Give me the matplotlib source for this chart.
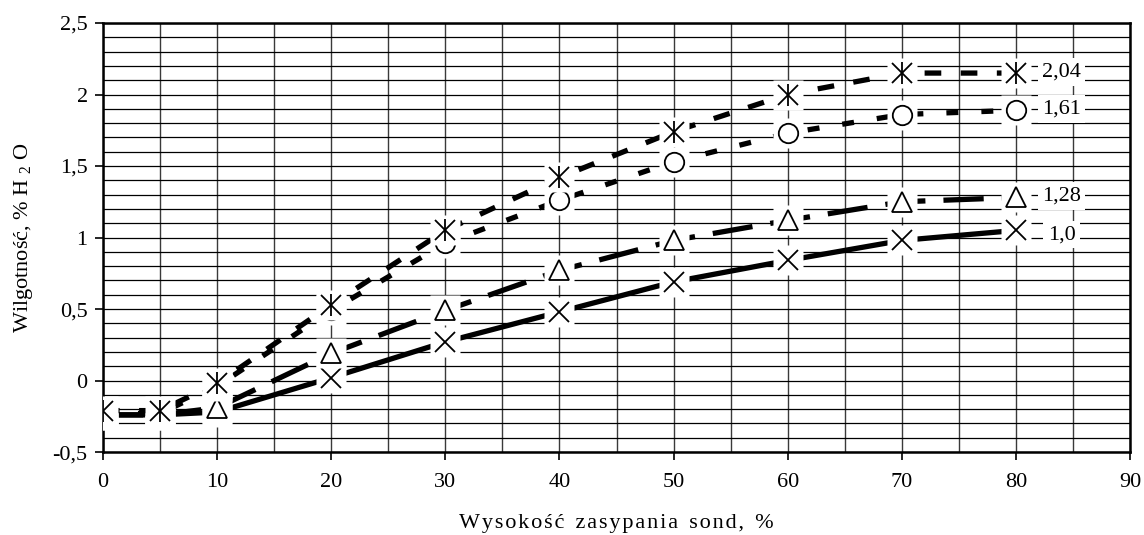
import matplotlib
matplotlib.use("Agg")
import matplotlib.pyplot as plt
from matplotlib.ticker import MultipleLocator, FixedLocator, FuncFormatter

# Probe fill height (% of probe) and measured moisture (% H2O) for four series
height_pct = [0, 5, 10, 20, 30, 40, 50, 60, 70, 80]
moist_204 = [-0.21, -0.21, -0.02, 0.53, 1.05, 1.42, 1.74, 2.00, 2.15, 2.15]
moist_161 = [-0.23, -0.23, -0.04, 0.49, 0.96, 1.26, 1.53, 1.73, 1.86, 1.89]
moist_128 = [-0.24, -0.24, -0.19, 0.19, 0.49, 0.77, 0.98, 1.12, 1.25, 1.28]
moist_100 = [-0.24, -0.24, -0.22, 0.02, 0.27, 0.48, 0.69, 0.84, 0.98, 1.05]
end_labels = ["1,0", "1,28", "1,61", "2,04"]

x_ticks = [0, 10, 20, 30, 40, 50, 60, 70, 80, 90]
y_ticks = [-0.5, 0, 0.5, 1, 1.5, 2, 2.5]

plt.rcParams["font.family"] = ["Liberation Serif", "DejaVu Serif"]
plt.rcParams["mathtext.fontset"] = "custom"
plt.rcParams["mathtext.rm"] = "Liberation Serif"
plt.rcParams["lines.scale_dashes"] = False

FS = 16

fig = plt.figure(figsize=(11.44, 5.35), dpi=100)
ax = fig.add_axes([0.0900, 0.155, 0.8978, 0.802])

ax.set_xlim(0, 90)
ax.set_ylim(-0.5, 2.5)

# grid: every 5 % horizontally, every 0.1 vertically
ax.xaxis.set_major_locator(FixedLocator(x_ticks))
ax.xaxis.set_minor_locator(MultipleLocator(5))
ax.yaxis.set_major_locator(FixedLocator(y_ticks))
ax.yaxis.set_minor_locator(MultipleLocator(0.1))
ax.grid(True, which="both", axis="x", color="#3a3a3a", lw=1.0, zorder=0)
ax.grid(True, which="both", axis="y", color="black", lw=0.9, zorder=0)
ax.set_axisbelow(True)


def comma(v, _pos):
    return ("%g" % v).replace(".", ",")


ax.yaxis.set_major_formatter(FuncFormatter(comma))
ax.tick_params(axis="both", which="major", direction="out", length=6,
               width=1.2, labelsize=FS, color="black")
ax.tick_params(axis="x", which="major", pad=9)
ax.tick_params(axis="y", which="major", pad=5)
ax.tick_params(axis="both", which="minor", length=0)

for sp in ax.spines.values():
    sp.set_linewidth(1.8)
    sp.set_color("black")

# series styles, drawn from bottom to top
lw = 3.8
series = [
    (moist_100, None, "x"),
    (moist_128, (0, (29, 13)), "^"),
    (moist_161, (0, (8.6, 16.6)), "o"),
    (moist_204, (0, (12, 14)), "ast"),
]

z = 3
for vals, dash, mk in series:
    if dash is None:
        ax.plot(height_pct, vals, color="black", lw=lw, solid_capstyle="butt",
                zorder=z)
    else:
        ax.plot(height_pct, vals, color="black", lw=lw, linestyle=dash,
                dash_capstyle="butt", zorder=z)
    # white backing square behind every marker
    ax.plot(height_pct, vals, linestyle="none", marker="s", markersize=21,
            markerfacecolor="white", markeredgecolor="none", zorder=z + 1)
    if mk == "x":
        ax.plot(height_pct, vals, linestyle="none", marker="x", markersize=14,
                markeredgewidth=1.3, color="black", zorder=z + 2)
    elif mk == "^":
        ax.plot(height_pct, vals, linestyle="none", marker="^", markersize=15,
                markerfacecolor="white", markeredgecolor="black",
                markeredgewidth=1.3, zorder=z + 2)
    elif mk == "o":
        ax.plot(height_pct, vals, linestyle="none", marker="o", markersize=14,
                markerfacecolor="white", markeredgecolor="black",
                markeredgewidth=1.3, zorder=z + 2)
    else:
        ax.plot(height_pct, vals, linestyle="none", marker="x", markersize=14,
                markeredgewidth=1.3, color="black", zorder=z + 2)
        ax.plot(height_pct, vals, linestyle="none", marker="|", markersize=16,
                markeredgewidth=1.3, color="black", zorder=z + 2)
    z += 3

# series labels to the right of the last points
label_offsets = [-3, 1, 1, 1]
for (vals, _, _), text, dy in zip(series, end_labels, label_offsets):
    ax.annotate(text, xy=(84, vals[-1]), xytext=(0, dy),
                textcoords="offset points", ha="center", va="center",
                fontsize=FS, zorder=20,
                bbox=dict(boxstyle="square,pad=0.2", fc="white", ec="none"))

ax.set_xlabel("W y s o k o ś ć   z a s y p a n i a   s o n d ,   %"
              .replace("   ", "\u2002").replace(" ", "\u200a"),
              fontsize=FS, labelpad=16)
ax.set_ylabel("Wilgotność, % H $_{2}$ O", fontsize=FS, labelpad=13)

fig.savefig("out.png", dpi=100)
